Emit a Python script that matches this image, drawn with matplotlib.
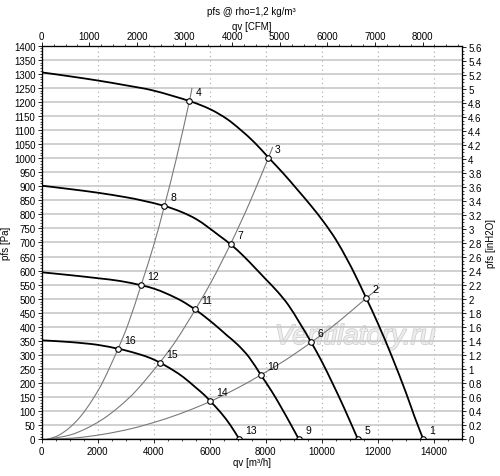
import matplotlib
matplotlib.use('Agg')
import matplotlib.pyplot as plt
from matplotlib.ticker import MultipleLocator, FuncFormatter
from matplotlib.path import Path
from matplotlib.patches import PathPatch
import matplotlib.patheffects as pe

plt.rcParams['font.family'] = ['Liberation Sans', 'DejaVu Sans']
plt.rcParams['font.size'] = 7

CFM = 1.699      # m3/h per CFM
INH2O = 249.09   # Pa per inH2O
QMAX = 15000
PMAX = 1400

# fan curves, qv [m3/h] / pfs [Pa]
q1 = [0, 1000, 2000, 3000, 4000, 5272, 6011, 6600, 7082, 7600, 8094, 8629, 9107, 9600,
      10057, 10500, 10893, 11189, 11582, 12000, 12500, 13000, 13300, 13618]
p1 = [1305, 1291, 1276, 1259, 1240, 1203, 1174, 1140, 1102, 1055, 1002, 945, 890, 832,
      774, 710, 641, 584, 502, 412, 294, 166, 82, 0]

q2 = [0, 1000, 2000, 3000, 3600, 4379, 5000, 5500, 5900, 6300, 6761, 7200, 7600, 8000,
      8400, 8800, 9200, 9618, 10000, 10400, 10800, 11286]
p2 = [902, 890, 877, 861, 849, 830, 808, 784, 757, 727, 692, 652, 611, 569,
      527, 478, 415, 345, 276, 195, 110, 0]

q3 = [0, 1000, 2000, 2800, 3546, 4000, 4464, 5000, 5486, 5900, 6300, 6607, 7000, 7400,
      7821, 8200, 8511, 8850, 9179]
p3 = [594, 584, 573, 563, 548, 536, 518, 492, 461, 430, 397, 370, 336, 292,
      229, 172, 120, 60, 0]

q4 = [0, 1000, 2000, 2725, 3000, 3500, 3900, 4214, 4450, 4700, 5057, 5500, 5800, 6022,
      6400, 6750, 7054]
p4 = [352, 346, 336, 322, 316, 302, 288, 273, 260, 245, 221, 184, 158, 135,
      94, 48, 0]

# system curves
qa = [200, 600, 1000, 1400, 1800, 2200, 2725, 3100, 3546, 4000, 4379, 4800, 5272, 5360]
pa = [0, 14, 42, 83, 139, 208, 322, 414, 548, 691, 830, 996, 1203, 1250]
qb = [200, 1000, 1600, 2200, 2800, 3400, 4214, 4800, 5486, 6100, 6761, 7400, 8094, 8240]
pb = [0, 15, 39, 73, 119, 176, 273, 352, 462, 569, 699, 837, 1002, 1040]
qc = [200, 1200, 2200, 3200, 4200, 5100, 6022, 7000, 7821, 8700, 9618, 10600, 11582, 12060]
pc = [0, 5, 18, 38, 66, 97, 135, 183, 229, 282, 345, 419, 502, 541]

# operating points 1..16
pt_q = [13618, 11582, 8094, 5272, 11286, 9618, 6761, 4379,
        9179, 7821, 5486, 3546, 7054, 6022, 4214, 2725]
pt_p = [0, 502, 1002, 1203, 0, 345, 695, 830,
        0, 229, 462, 548, 0, 135, 273, 322]
pt_lbl = [str(i) for i in range(1, 17)]


def smooth_path(q, p):
    # smooth line through the read points (Catmull-Rom drawn as bezier)
    xs = [v / QMAX for v in q]
    ys = [v / PMAX for v in p]
    n = len(xs)
    verts = [(q[0], p[0])]
    codes = [Path.MOVETO]
    for i in range(n - 1):
        a, b = max(i - 1, 0), min(i + 2, n - 1)
        c1 = (xs[i] + (xs[i + 1] - xs[a]) / 6, ys[i] + (ys[i + 1] - ys[a]) / 6)
        c2 = (xs[i + 1] - (xs[b] - xs[i]) / 6, ys[i + 1] - (ys[b] - ys[i]) / 6)
        verts += [(c1[0] * QMAX, c1[1] * PMAX), (c2[0] * QMAX, c2[1] * PMAX), (q[i + 1], p[i + 1])]
        codes += [Path.CURVE4] * 3
    return Path(verts, codes)


fig = plt.figure(figsize=(5, 4.77), dpi=100)
ax = fig.add_axes([0.0834, 0.0769, 0.8406, 0.8253])

ax.set_xlim(0, QMAX)
ax.set_ylim(0, PMAX)
ax.xaxis.set_major_locator(MultipleLocator(2000))
ax.xaxis.set_minor_locator(MultipleLocator(500))
ax.yaxis.set_major_locator(MultipleLocator(50))
ax.yaxis.set_minor_locator(MultipleLocator(10))
ax.tick_params(which='major', direction='out', length=3, width=0.6, labelsize=7, pad=1.5)
ax.tick_params(which='minor', direction='out', length=1.5, width=0.5)

ax.grid(axis='y', which='major', color='#c8c8c8', lw=1.2, zorder=0)
for v in range(2000, QMAX, 2000):
    ax.axvline(v, color='#a8a8a8', lw=0.8, ls=(0, (1, 3)), zorder=0)

ax.text(355, 477 - 338, 'Ventilatory.ru', transform=None, fontsize=20, style='italic',
        color='#ededed', ha='center', va='center', zorder=1,
        path_effects=[pe.withStroke(linewidth=1.2, foreground='#d0d0d0')])

for q, p in [(qa, pa), (qb, pb), (qc, pc)]:
    ax.add_patch(PathPatch(smooth_path(q, p), fill=False, edgecolor='#7a7a7a', lw=0.8, zorder=2))
for q, p in [(q1, p1), (q2, p2), (q3, p3), (q4, p4)]:
    ax.add_patch(PathPatch(smooth_path(q, p), fill=False, edgecolor='black', lw=1.3, zorder=3))

ax.plot(pt_q, pt_p, 'o', ms=4, mfc='white', mec='black', mew=0.8, zorder=4, ls='none')
for q, p, s in zip(pt_q, pt_p, pt_lbl):
    ax.annotate(s, (q, p), xytext=(4.5, 6.5), textcoords='offset points',
                ha='left', va='center', fontsize=7.5, zorder=5)

for sp in ax.spines.values():
    sp.set_linewidth(0.8)

ax.set_xlabel('qv [m³/h]', labelpad=1)
ax.set_ylabel('pfs [Pa]', labelpad=2)

ax2 = ax.twiny()
ax2.set_xlim(0, QMAX / CFM)
ax2.xaxis.set_major_locator(MultipleLocator(1000))
ax2.xaxis.set_minor_locator(MultipleLocator(250))
ax2.tick_params(which='major', direction='out', length=3, width=0.6, labelsize=7, pad=0.3)
ax2.tick_params(which='minor', direction='out', length=1.5, width=0.5)
ax2.set_xlabel('qv [CFM]', labelpad=1.5)

ax3 = ax.twinx()
ax3.set_ylim(0, PMAX / INH2O)
ax3.yaxis.set_major_locator(MultipleLocator(0.2))
ax3.yaxis.set_minor_locator(MultipleLocator(0.05))
ax3.yaxis.set_major_formatter(FuncFormatter(lambda v, pos: '%g' % round(v, 1)))
ax3.tick_params(which='major', direction='out', length=3, width=0.6, labelsize=7, pad=1.5)
ax3.tick_params(which='minor', direction='out', length=1.5, width=0.5)
ax3.set_ylabel('pfs [inH2O]', labelpad=3)

fig.text(0.503, 1 - 12 / 477, 'pfs @ rho=1,2 kg/m³', ha='center', va='center', fontsize=7)

fig.savefig('out.png', dpi=100)
